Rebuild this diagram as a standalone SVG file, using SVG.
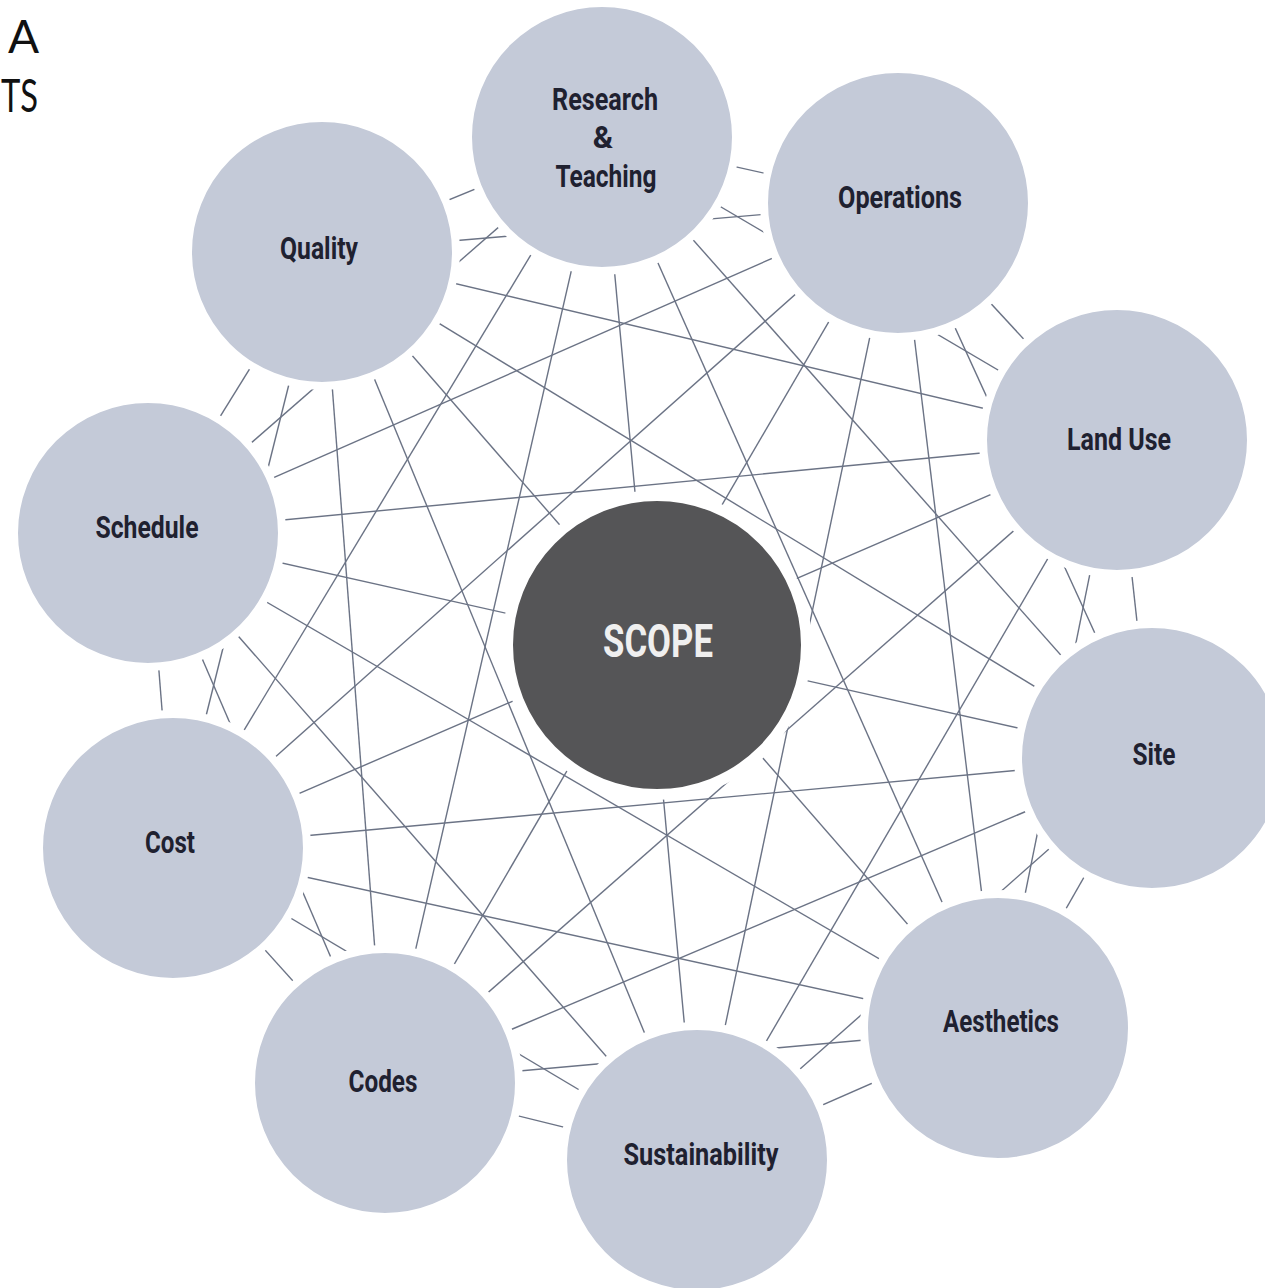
<svg xmlns="http://www.w3.org/2000/svg" width="1265" height="1288" viewBox="0 0 1265 1288">
<style>
.edge{stroke:#6b7385;stroke-width:1.4;fill:none}
.node{fill:#c4cad8;stroke:#ffffff;stroke-width:8}
.core{fill:#555557;stroke:#ffffff;stroke-width:11}
.lbl{font-family:"Liberation Sans Narrow","Roboto","Liberation Sans",sans-serif;font-weight:bold;font-size:31px;fill:#1f2130;text-anchor:middle}
.corelbl{font-family:"Liberation Sans Narrow","Roboto","Liberation Sans",sans-serif;font-weight:bold;font-size:47px;fill:#efefef;text-anchor:middle}
.corner{font-family:"Lato","Open Sans",sans-serif;font-size:46px;fill:#111111}
</style>
<rect width="1265" height="1288" fill="#ffffff"/>
<text class="corner" x="8" y="53">A</text>
<text class="corner" x="1" y="112" textLength="37" lengthAdjust="spacingAndGlyphs">TS</text>
<g id="connectors">
<line class="edge" x1="602" y1="137" x2="898" y2="203"/>
<line class="edge" x1="602" y1="137" x2="1117" y2="440"/>
<line class="edge" x1="602" y1="137" x2="1152" y2="758"/>
<line class="edge" x1="602" y1="137" x2="998" y2="1028"/>
<line class="edge" x1="602" y1="137" x2="697" y2="1160"/>
<line class="edge" x1="602" y1="137" x2="385" y2="1083"/>
<line class="edge" x1="602" y1="137" x2="173" y2="848"/>
<line class="edge" x1="602" y1="137" x2="148" y2="533"/>
<line class="edge" x1="602" y1="137" x2="322" y2="252"/>
<line class="edge" x1="898" y1="203" x2="1117" y2="440"/>
<line class="edge" x1="898" y1="203" x2="1152" y2="758"/>
<line class="edge" x1="898" y1="203" x2="998" y2="1028"/>
<line class="edge" x1="898" y1="203" x2="697" y2="1160"/>
<line class="edge" x1="898" y1="203" x2="385" y2="1083"/>
<line class="edge" x1="898" y1="203" x2="173" y2="848"/>
<line class="edge" x1="898" y1="203" x2="148" y2="533"/>
<line class="edge" x1="898" y1="203" x2="322" y2="252"/>
<line class="edge" x1="1117" y1="440" x2="1152" y2="758"/>
<line class="edge" x1="1117" y1="440" x2="998" y2="1028"/>
<line class="edge" x1="1117" y1="440" x2="697" y2="1160"/>
<line class="edge" x1="1117" y1="440" x2="385" y2="1083"/>
<line class="edge" x1="1117" y1="440" x2="173" y2="848"/>
<line class="edge" x1="1117" y1="440" x2="148" y2="533"/>
<line class="edge" x1="1117" y1="440" x2="322" y2="252"/>
<line class="edge" x1="1152" y1="758" x2="998" y2="1028"/>
<line class="edge" x1="1152" y1="758" x2="697" y2="1160"/>
<line class="edge" x1="1152" y1="758" x2="385" y2="1083"/>
<line class="edge" x1="1152" y1="758" x2="173" y2="848"/>
<line class="edge" x1="1152" y1="758" x2="148" y2="533"/>
<line class="edge" x1="1152" y1="758" x2="322" y2="252"/>
<line class="edge" x1="998" y1="1028" x2="697" y2="1160"/>
<line class="edge" x1="998" y1="1028" x2="385" y2="1083"/>
<line class="edge" x1="998" y1="1028" x2="173" y2="848"/>
<line class="edge" x1="998" y1="1028" x2="148" y2="533"/>
<line class="edge" x1="998" y1="1028" x2="322" y2="252"/>
<line class="edge" x1="697" y1="1160" x2="385" y2="1083"/>
<line class="edge" x1="697" y1="1160" x2="173" y2="848"/>
<line class="edge" x1="697" y1="1160" x2="148" y2="533"/>
<line class="edge" x1="697" y1="1160" x2="322" y2="252"/>
<line class="edge" x1="385" y1="1083" x2="173" y2="848"/>
<line class="edge" x1="385" y1="1083" x2="148" y2="533"/>
<line class="edge" x1="385" y1="1083" x2="322" y2="252"/>
<line class="edge" x1="173" y1="848" x2="148" y2="533"/>
<line class="edge" x1="173" y1="848" x2="322" y2="252"/>
<line class="edge" x1="148" y1="533" x2="322" y2="252"/>
</g>
<g id="node-research">
<circle class="node" cx="602" cy="137" r="134"/>
<text class="lbl" x="605" y="110" textLength="106" lengthAdjust="spacingAndGlyphs">Research</text>
<text class="lbl" x="603" y="148">&amp;</text>
<text class="lbl" x="606" y="187" textLength="101" lengthAdjust="spacingAndGlyphs">Teaching</text>
</g>
<g id="node-operations">
<circle class="node" cx="898" cy="203" r="134"/>
<text class="lbl" x="900" y="208" textLength="124" lengthAdjust="spacingAndGlyphs">Operations</text>
</g>
<g id="node-landuse">
<circle class="node" cx="1117" cy="440" r="134"/>
<text class="lbl" x="1119" y="450" textLength="104" lengthAdjust="spacingAndGlyphs">Land Use</text>
</g>
<g id="node-site">
<circle class="node" cx="1152" cy="758" r="134"/>
<text class="lbl" x="1154" y="765" textLength="43" lengthAdjust="spacingAndGlyphs">Site</text>
</g>
<g id="node-aesthetics">
<circle class="node" cx="998" cy="1028" r="134"/>
<text class="lbl" x="1001" y="1032" textLength="116" lengthAdjust="spacingAndGlyphs">Aesthetics</text>
</g>
<g id="node-sustainability">
<circle class="node" cx="697" cy="1160" r="134"/>
<text class="lbl" x="701" y="1165" textLength="155" lengthAdjust="spacingAndGlyphs">Sustainability</text>
</g>
<g id="node-codes">
<circle class="node" cx="385" cy="1083" r="134"/>
<text class="lbl" x="383" y="1092" textLength="69" lengthAdjust="spacingAndGlyphs">Codes</text>
</g>
<g id="node-cost">
<circle class="node" cx="173" cy="848" r="134"/>
<text class="lbl" x="170" y="853" textLength="50" lengthAdjust="spacingAndGlyphs">Cost</text>
</g>
<g id="node-schedule">
<circle class="node" cx="148" cy="533" r="134"/>
<text class="lbl" x="147" y="538" textLength="103" lengthAdjust="spacingAndGlyphs">Schedule</text>
</g>
<g id="node-quality">
<circle class="node" cx="322" cy="252" r="134"/>
<text class="lbl" x="319" y="259" textLength="78" lengthAdjust="spacingAndGlyphs">Quality</text>
</g>
<g id="node-scope">
<circle class="core" cx="657" cy="645" r="149.5"/>
<text class="corelbl" x="658" y="657" textLength="110" lengthAdjust="spacingAndGlyphs">SCOPE</text>
</g>
</svg>
